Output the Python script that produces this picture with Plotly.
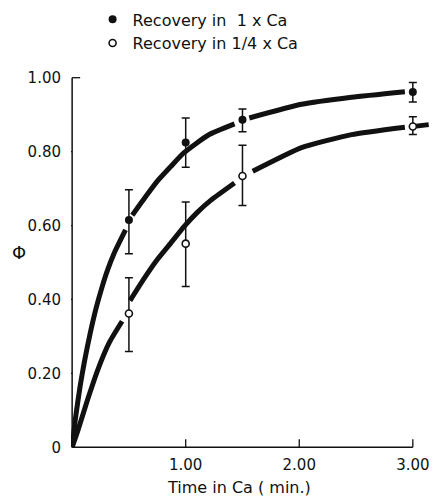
import plotly.graph_objects as go

# ---- data ----
t_points = [0.5, 1.0, 1.5, 3.0]

full_y = [0.615, 0.825, 0.886, 0.961]
full_hi = [0.697, 0.891, 0.915, 0.987]
full_lo = [0.524, 0.758, 0.854, 0.934]

quarter_y = [0.362, 0.551, 0.734, 0.868]
quarter_hi = [0.459, 0.664, 0.817, 0.894]
quarter_lo = [0.259, 0.435, 0.654, 0.846]

# fitted curves (drawn in pieces, broken around the points)
full_curve_t = [0, 0.03, 0.07, 0.11, 0.16, 0.21, 0.26, 0.31, 0.37, 0.47, None,
                0.53, 0.64, 0.75, 0.87, 0.985, 1.2, 1.43, None,
                1.56, 2.02, 2.46, 2.93]
full_curve_y = [0, 0.08, 0.165, 0.235, 0.31, 0.375, 0.43, 0.478, 0.525, 0.588, None,
                0.628, 0.675, 0.72, 0.76, 0.797, 0.845, 0.875, None,
                0.891, 0.928, 0.947, 0.962]

quarter_curve_t = [0, 0.05, 0.135, 0.23, 0.33, 0.44, None,
                   0.51, 0.63, 0.75, 0.87, 0.985, 1.1, 1.22, 1.43, None,
                   1.59, 2.02, 2.46, 2.93, None,
                   3.03, 3.14]
quarter_curve_y = [0, 0.045, 0.128, 0.213, 0.285, 0.341, None,
                   0.397, 0.455, 0.508, 0.553, 0.597, 0.635, 0.668, 0.715, None,
                   0.747, 0.811, 0.846, 0.866, None,
                   0.869, 0.873]

y_ticks = [0, 0.2, 0.4, 0.6, 0.8, 1.0]
y_tick_text = ["0", "0.20", "0.40", "0.60", "0.80", "1.00"]
x_ticks = [1, 2, 3]
x_tick_text = ["1.00", "2.00", "3.00"]

legend_names = ["Recovery in  1 x Ca", "Recovery in 1/4 x Ca"]

FONT = "DejaVu Sans"
INK = "#111111"

fig = go.Figure()

fig.add_trace(go.Scatter(x=full_curve_t, y=full_curve_y, mode="lines",
                         line=dict(color=INK, width=5, shape="spline", smoothing=0.5),
                         showlegend=False, hoverinfo="skip"))
fig.add_trace(go.Scatter(x=quarter_curve_t, y=quarter_curve_y, mode="lines",
                         line=dict(color=INK, width=5, shape="spline", smoothing=0.5),
                         showlegend=False, hoverinfo="skip"))

fig.add_trace(go.Scatter(
    x=t_points, y=full_y, mode="markers", showlegend=False, cliponaxis=False,
    marker=dict(symbol="circle", size=8, color=INK),
    error_y=dict(type="data", symmetric=False,
                 array=[h - v for h, v in zip(full_hi, full_y)],
                 arrayminus=[v - l for v, l in zip(full_y, full_lo)],
                 color=INK, thickness=1.5, width=4)))
fig.add_trace(go.Scatter(
    x=t_points, y=quarter_y, mode="markers", showlegend=False, cliponaxis=False,
    marker=dict(symbol="circle", size=7, color="white", line=dict(color=INK, width=1.6)),
    error_y=dict(type="data", symmetric=False,
                 array=[h - v for h, v in zip(quarter_hi, quarter_y)],
                 arrayminus=[v - l for v, l in zip(quarter_y, quarter_lo)],
                 color=INK, thickness=1.5, width=4)))

# legend-only entries
fig.add_trace(go.Scatter(x=[None], y=[None], mode="markers", name=legend_names[0],
                         marker=dict(symbol="circle", size=8, color=INK)))
fig.add_trace(go.Scatter(x=[None], y=[None], mode="markers", name=legend_names[1],
                         marker=dict(symbol="circle", size=7, color="white",
                                     line=dict(color=INK, width=1.6))))

shapes = []
# axis lines
shapes.append(dict(type="line", xref="x", yref="y", x0=0, x1=3.0, y0=0, y1=0,
                   line=dict(color=INK, width=1.5)))
shapes.append(dict(type="line", xref="x", yref="y", x0=0, x1=0, y0=0, y1=1.0,
                   line=dict(color=INK, width=1.5)))
# y ticks (outside, the top one pointing inward)
for v in y_ticks[1:-1]:
    shapes.append(dict(type="line", xref="x", yref="y", xsizemode="pixel", xanchor=0,
                       x0=-8, x1=0, y0=v, y1=v, line=dict(color=INK, width=1.3)))
shapes.append(dict(type="line", xref="x", yref="y", xsizemode="pixel", xanchor=0,
                   x0=0, x1=8, y0=y_ticks[-1], y1=y_ticks[-1], line=dict(color=INK, width=1.3)))
# x ticks (inside)
for v in x_ticks:
    shapes.append(dict(type="line", xref="x", yref="y", ysizemode="pixel", yanchor=0,
                       x0=v, x1=v, y0=0, y1=8, line=dict(color=INK, width=1.3)))

fig.update_layout(
    width=433, height=497, autosize=False,
    margin=dict(l=71, r=2, t=69, b=46),
    paper_bgcolor="white", plot_bgcolor="white",
    font=dict(family=FONT, size=15, color=INK),
    shapes=shapes,
    showlegend=True,
    legend=dict(x=0.06, y=1.19, xanchor="left", yanchor="top",
                font=dict(family=FONT, size=16, color=INK),
                bgcolor="rgba(0,0,0,0)", itemwidth=30, tracegroupgap=0),
    xaxis=dict(range=[-0.01, 3.16], showgrid=False, zeroline=False, showline=False,
               tickvals=x_ticks, ticktext=x_tick_text, ticks="",
               ticklabelstandoff=3, fixedrange=True),
    yaxis=dict(range=[-0.01, 1.01], showgrid=False, zeroline=False, showline=False,
               tickvals=y_ticks, ticktext=y_tick_text, ticks="",
               ticklabelstandoff=9, fixedrange=True),
    annotations=[
        dict(text="Time in Ca ( min.)", xref="paper", yref="paper",
             x=(239 - 71) / 360, y=-(488 - 451) / 382, xanchor="center", yanchor="middle",
             showarrow=False, font=dict(family=FONT, size=16, color=INK)),
        dict(text="Φ", xref="paper", yref="paper",
             x=-(71 - 19) / 360, y=(451 - 250) / 382, xanchor="center", yanchor="middle",
             showarrow=False, font=dict(family=FONT, size=18, color=INK)),
    ],
)

fig.write_html("out.html")
